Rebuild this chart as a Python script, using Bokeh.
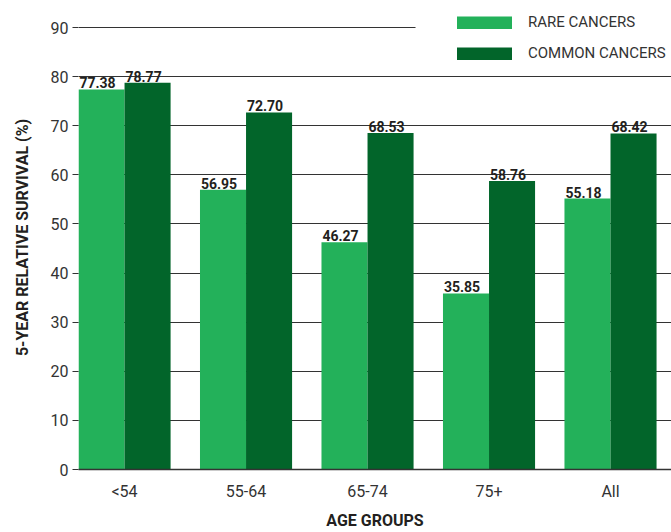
import numpy as np
from bokeh.plotting import figure
from bokeh.models import (ColumnDataSource, Range1d, FixedTicker, Legend, LegendItem,
                          BoxAnnotation)
from bokeh.core.properties import value
from bokeh.embed import file_html
from bokeh.resources import INLINE

categories = ["<54", "55-64", "65-74", "75+", "All"]
rare = [77.38, 56.95, 46.27, 35.85, 55.18]
common = [78.77, 72.70, 68.53, 58.76, 68.42]
series_names = ["RARE CANCERS", "COMMON CANCERS"]
y_ticks = [0, 10, 20, 30, 40, 50, 60, 70, 80, 90]

RARE_C = "#23b15a"
COMMON_C = "#02652a"
FONT = "Roboto"
BAR_W = 0.379
OFF = 0.1895

xs = np.arange(len(categories))
src = ColumnDataSource(dict(
    x=xs, cat=categories,
    xr=xs - OFF, xc=xs + OFF,
    rare=rare, common=common,
    rl=[f"{v:.2f}" for v in rare], cl=[f"{v:.2f}" for v in common],
))

p = figure(width=671, height=532, output_backend="svg", toolbar_location=None,
           x_range=Range1d(-0.379, 4.502), y_range=Range1d(0, 94.48),
           min_border_left=78, min_border_right=0, min_border_top=5, min_border_bottom=63)
p.outline_line_color = None
p.background_fill_color = "white"

# grid
p.xgrid.grid_line_color = None
p.ygrid.grid_line_color = "#333333"
p.ygrid.grid_line_width = 1
p.ygrid.ticker = FixedTicker(ticks=y_ticks)

# bars
r1 = p.vbar(x="xr", top="rare", width=BAR_W, source=src, fill_color=RARE_C, line_color=None)
r2 = p.vbar(x="xc", top="common", width=BAR_W, source=src, fill_color=COMMON_C, line_color=None)

# value labels
for xcol, ycol, tcol in [("xr", "rare", "rl"), ("xc", "common", "cl")]:
    p.text(x=xcol, y=ycol, text=tcol, source=src, text_align="center",
           text_baseline="bottom", y_offset=-1, x_offset=-4,
           text_font=value(FONT), text_font_style="bold", text_font_size="14px",
           text_color="#231f20")

# hide top gridline behind legend
p.add_layout(BoxAnnotation(left=2.395, bottom=88, fill_color="white", fill_alpha=1,
                           line_alpha=0, level="overlay"))

# axes
yax = p.yaxis[0]
yax.ticker = FixedTicker(ticks=y_ticks)
yax.axis_line_color = None
yax.major_tick_in = 0
yax.major_tick_out = 6
yax.major_tick_line_color = "#333333"
yax.minor_tick_line_color = None
yax.major_label_standoff = 4
yax.major_label_text_font = FONT
yax.major_label_text_font_size = "16px"
yax.major_label_text_color = "#333333"
yax.axis_label = "5-YEAR RELATIVE SURVIVAL (%)"
yax.axis_label_text_font = FONT
yax.axis_label_text_font_style = "bold"
yax.axis_label_text_font_size = "16px"
yax.axis_label_text_color = "#231f20"
yax.axis_label_standoff = 16

xax = p.xaxis[0]
xax.ticker = FixedTicker(ticks=list(xs))
xax.major_label_overrides = {int(i): c for i, c in zip(xs, categories)}
xax.axis_line_color = "#333333"
xax.axis_line_width = 1.5
xax.major_tick_line_color = None
xax.minor_tick_line_color = None
xax.major_tick_in = 0
xax.major_tick_out = 0
xax.major_label_standoff = 12
xax.major_label_text_font = FONT
xax.major_label_text_font_size = "16px"
xax.major_label_text_color = "#333333"
xax.axis_label = "AGE GROUPS"
xax.axis_label_text_font = FONT
xax.axis_label_text_font_style = "bold"
xax.axis_label_text_font_size = "16px"
xax.axis_label_text_color = "#231f20"
xax.axis_label_standoff = 7

# legend markers
l1 = p.line(x=[0, 0], y=[-10, -10], line_color=RARE_C, line_width=13, line_cap="round")
l2 = p.line(x=[0, 0], y=[-10, -10], line_color=COMMON_C, line_width=13, line_cap="round")
legend = Legend(items=[LegendItem(label=series_names[0], renderers=[l1]),
                       LegendItem(label=series_names[1], renderers=[l2])],
                location=(379, 406), orientation="vertical",
                background_fill_alpha=0, border_line_color=None,
                glyph_width=55, glyph_height=13, label_height=20, spacing=11,
                padding=0, margin=0, label_standoff=16,
                label_text_font=FONT, label_text_font_size="15px",
                label_text_color="#333333")
p.add_layout(legend, "center")

open("out.html", "w").write(file_html(p, INLINE))
